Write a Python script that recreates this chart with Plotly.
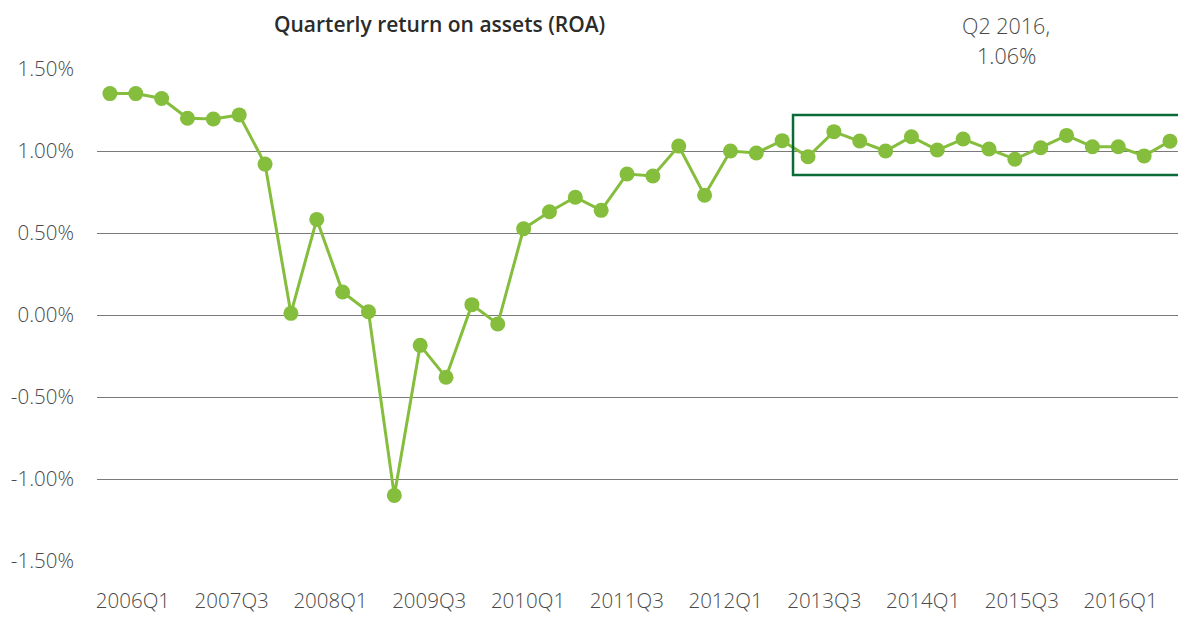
import plotly.graph_objects as go

quarters = [f"{y}Q{q}" for y in range(2006, 2017) for q in range(1, 5)][:42]
roa = [1.35, 1.35, 1.32, 1.20, 1.195, 1.22, 0.92, 0.01, 0.583, 0.14, 0.02, -1.10,
       -0.185, -0.38, 0.063, -0.055, 0.526, 0.63, 0.718, 0.638, 0.86, 0.848, 1.03, 0.73,
       1.00, 0.988, 1.063, 0.965, 1.118, 1.061, 1.00, 1.087, 1.006, 1.073, 1.012, 0.95,
       1.02, 1.095, 1.026, 1.026, 0.97, 1.06]
tick_labels = ["2006Q1", "2007Q3", "2008Q1", "2009Q3", "2010Q1", "2011Q3",
               "2012Q1", "2013Q3", "2014Q1", "2015Q3", "2016Q1"]
y_ticks = [-1.5, -1.0, -0.5, 0.0, 0.5, 1.0, 1.5]

idx = list(range(len(quarters)))
tickvals = [0.89 + 3.82 * k for k in range(len(tick_labels))]

TXT = "#4a4a4a"
LIGHT = dict(family="Open Sans", size=20.5, color=TXT, weight=300)
GREEN = "#85BD3C"

fig = go.Figure()
fig.add_trace(go.Scatter(
    x=idx, y=roa, mode="lines+markers", customdata=quarters,
    hovertemplate="%{customdata}: %{y:.2f}%<extra></extra>",
    line=dict(color=GREEN, width=3),
    marker=dict(color=GREEN, size=15),
    showlegend=False, cliponaxis=False,
))

fig.add_shape(type="rect", xref="x", yref="y", x0=26.42, x1=41.6, y0=0.854, y1=1.22,
              line=dict(color="#0B6B38", width=2.5), fillcolor="rgba(0,0,0,0)", layer="above")

L, T, R = 97, 69, 0
PW = 1178 - L - R

def px(xs):
    return (xs - L) / PW

fig.add_annotation(text="Q2 2016,", xref="paper", yref="paper",
                   x=px(1006), y=1.0, yshift=69 - 25, xanchor="center", yanchor="middle",
                   showarrow=False, font=dict(LIGHT, size=21.5))
fig.add_annotation(text="1.06%", xref="paper", yref="paper",
                   x=px(1006), y=1.0, yshift=69 - 55, xanchor="center", yanchor="middle",
                   showarrow=False, font=dict(LIGHT, size=21.5))
fig.add_annotation(text="Quarterly return on assets (ROA)", xref="paper", yref="paper",
                   x=px(439), y=1.0, yshift=69 - 24, xanchor="center", yanchor="middle",
                   showarrow=False,
                   font=dict(family="Open Sans", size=21, color="#2b2b2b", weight=600))

fig.update_layout(
    width=1178, height=620,
    margin=dict(l=L, r=R, t=T, b=620 - 561, autoexpand=False),
    plot_bgcolor="white", paper_bgcolor="white",
    font=LIGHT,
    xaxis=dict(range=[-0.5, 41.31], tickvals=tickvals, ticktext=tick_labels,
               showgrid=False, zeroline=False, showline=False, ticks="", automargin=False,
               ticklabelstandoff=25, tickfont=LIGHT),
    yaxis=dict(range=[-1.5, 1.5], tickvals=y_ticks,
               ticktext=[f"{v:.2f}%" for v in y_ticks],
               showgrid=True, gridcolor="#7a7a7a", gridwidth=1, zeroline=False,
               showline=False, ticks="", ticklabelstandoff=22, automargin=False,
               tickfont=LIGHT),
)

fig.write_html("out.html", config={"displayModeBar": False},
               post_script="document.body.style.margin='0';document.body.style.overflow='hidden';")
